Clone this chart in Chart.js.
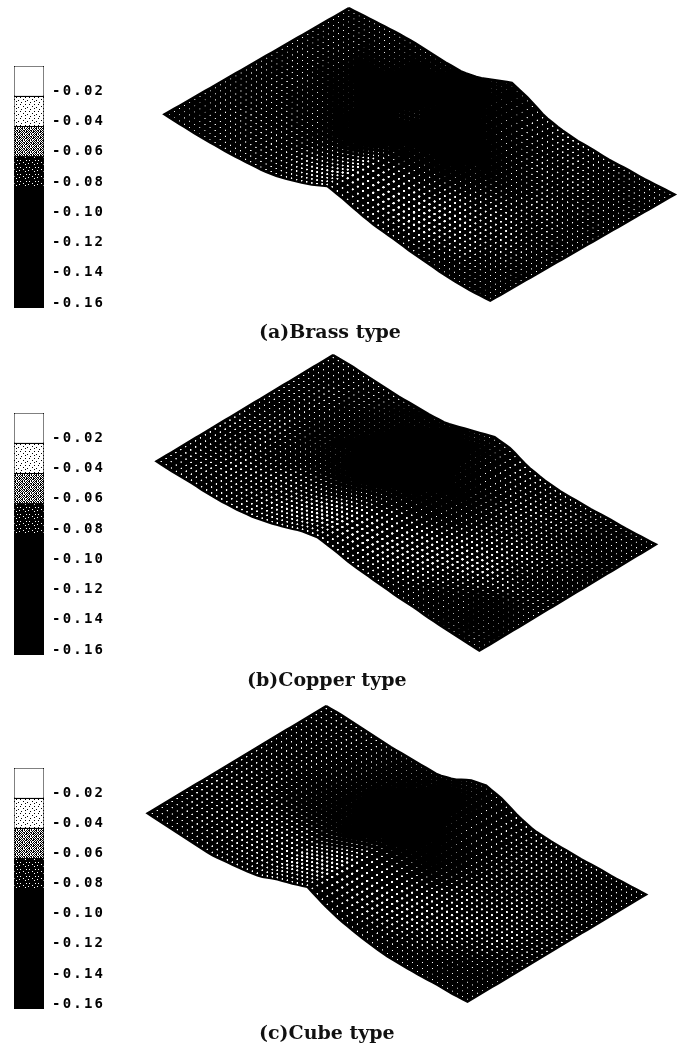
<!DOCTYPE html>
<html>
<head>
<meta charset="utf-8">
<script src="https://cdn.jsdelivr.net/npm/chart.js@4/dist/chart.umd.min.js"></script>
<style>
    html, body { margin: 0; padding: 0; background: #fff; overflow: hidden; }
    #page { position: relative; width: 684px; height: 1046px; }
    canvas { position: absolute; filter: contrast(1.6); }
    .caption { position: absolute; font: bold 19px "DejaVu Serif", serif; color: #111; white-space: nowrap; line-height: 20px; }
</style>
</head>
<body>
<div id="page"></div>
<script>
// Legend
const bandValues = [-0.02, -0.02, -0.02, -0.02, -0.02, -0.02, -0.02, -0.02];
const tickLabels = ['-0.02', '-0.04', '-0.06', '-0.08', '-0.10', '-0.12', '-0.14', '-0.16'];

// Edge heights along the long side, every 0.05 of its length
const farEdgeA = [0, 1, 2, 3, 3, 2, 1, 1, 5, 12, 19, 13, 4, 0, -2, -2, -3, -2, -2, -1, 0];
const nearEdgeA = [0, -1, -2, -2, -2, -1, 0, 3, 8, 14, 22, 18, 13, 9, 7, 4, 2, 0, -1, -1, 0];
const farEdgeB = [0, 0, -1, -2, -3, -3, -3, -2, 3, 8, 13, 11, 3, -1, -3, -3, -3, -2, -2, -1, 0];
const nearEdgeB = [0, -1, -1, -2, -2, -1, 1, 5, 10, 16, 19, 16, 12, 10, 8, 6, 5, 3, 2, 1, 0];
const farEdgeC = [0, 0, -1, -2, -3, -3, -3, -3, 2, 11, 15, 11, 3, -2, -3, -3, -3, -2, -2, -1, 0];
const nearEdgeC = [0, -1, -2, -3, -4, -2, 0, 3, 10, 15, 21, 13, 7, 3, 0, -2, -2, -2, -1, -1, 0];

// Strain: rows run far edge to near edge, columns along the long side
const strainA = [
    [-.078, -.078, -.076, -.085, -.105, -.085, -.068, -.066, -.070, -.074, -.076],
    [-.078, -.076, -.085, -.105, -.110, -.100, -.072, -.066, -.068, -.072, -.076],
    [-.078, -.076, -.098, -.110, -.096, -.105, -.085, -.068, -.066, -.070, -.076],
    [-.076, -.074, -.094, -.105, -.092, -.110, -.105, -.078, -.066, -.070, -.076],
    [-.076, -.072, -.082, -.100, -.110, -.110, -.100, -.072, -.062, -.068, -.076],
    [-.076, -.072, -.074, -.088, -.105, -.092, -.070, -.058, -.058, -.066, -.076],
    [-.076, -.072, -.068, -.072, -.070, -.058, -.052, -.050, -.056, -.068, -.078],
    [-.078, -.074, -.070, -.066, -.058, -.052, -.050, -.050, -.062, -.075, -.080],
    [-.080, -.078, -.074, -.072, -.068, -.066, -.066, -.070, -.078, -.080, -.080]
];
const strainB = [
    [-.072, -.070, -.072, -.085, -.100, -.078, -.066, -.066, -.070, -.074, -.076],
    [-.072, -.070, -.076, -.100, -.110, -.095, -.066, -.062, -.068, -.072, -.076],
    [-.072, -.068, -.085, -.105, -.110, -.105, -.080, -.062, -.062, -.070, -.078],
    [-.070, -.068, -.082, -.105, -.110, -.110, -.085, -.060, -.058, -.068, -.078],
    [-.070, -.066, -.078, -.098, -.110, -.105, -.080, -.056, -.054, -.068, -.076],
    [-.068, -.064, -.070, -.070, -.085, -.075, -.056, -.050, -.050, -.066, -.076],
    [-.068, -.062, -.060, -.058, -.054, -.052, -.050, -.050, -.066, -.088, -.082],
    [-.070, -.064, -.060, -.056, -.052, -.050, -.050, -.058, -.080, -.086, -.080],
    [-.072, -.068, -.066, -.066, -.064, -.062, -.066, -.074, -.080, -.080, -.078]
];
const strainC = [
    [-.070, -.068, -.072, -.080, -.095, -.078, -.064, -.064, -.068, -.070, -.072],
    [-.070, -.066, -.072, -.090, -.105, -.100, -.066, -.060, -.064, -.068, -.072],
    [-.070, -.066, -.075, -.100, -.110, -.105, -.075, -.060, -.060, -.066, -.072],
    [-.068, -.066, -.080, -.100, -.110, -.110, -.090, -.062, -.058, -.062, -.070],
    [-.068, -.064, -.075, -.088, -.105, -.105, -.085, -.060, -.056, -.060, -.070],
    [-.066, -.062, -.064, -.066, -.082, -.070, -.058, -.054, -.054, -.060, -.072],
    [-.068, -.062, -.058, -.056, -.054, -.052, -.050, -.052, -.060, -.072, -.078],
    [-.072, -.066, -.060, -.058, -.054, -.052, -.054, -.060, -.072, -.080, -.082],
    [-.074, -.072, -.068, -.066, -.066, -.066, -.070, -.076, -.080, -.080, -.078]
];

// Mesh size
const cellsLong = 64;
const cellsShort = 36;

const page = document.getElementById('page');

// Small repeating tile for the dithered legend bands
function makeDither(bg, fg, rows) {
    const tile = document.createElement('canvas');
    tile.width = rows[0].length;
    tile.height = rows.length;
    const c = tile.getContext('2d');
    c.fillStyle = bg;
    c.fillRect(0, 0, tile.width, tile.height);
    c.fillStyle = fg;
    rows.forEach((row, y) => {
        [...row].forEach((bit, x) => {
            if (bit === '#') c.fillRect(x, y, 1, 1);
        });
    });
    return c.createPattern(tile, 'repeat');
}

function bandFills() {
    const light = makeDither('#fff', '#000', ['.........', '..#....#.', '.........', '.....#...', '#........', '.......#.', '...#.....']);
    const mid = makeDither('#fff', '#000', ['#.#.##.', '.#.#..#', '##.#.#.', '.#..#.#', '#.##.#.', '.#.#.##']);
    const dark = makeDither('#000', '#fff', ['.........', '..#.....#', '.........', '.....#...', '.#.......', '.......#.', '.........']);
    return ['#fff', light, mid, dark, '#000', '#000', '#000', '#000'];
}

function drawLegend(barTop, barBottom) {
    const canvas = document.createElement('canvas');
    canvas.style.left = '0px';
    canvas.style.top = (barTop - 12) + 'px';
    canvas.style.width = '120px';
    canvas.style.height = (barBottom - barTop + 24) + 'px';
    canvas.width = 120;
    canvas.height = barBottom - barTop + 24;
    page.appendChild(canvas);
    const fills = bandFills();

    new Chart(canvas, {
        type: 'bar',
        data: {
            labels: ['strain'],
            datasets: bandValues.map((v, i) => ({
                label: tickLabels[i],
                data: [v],
                backgroundColor: fills[i],
                borderColor: '#000',
                borderWidth: 1,
                borderSkipped: false,
                inflateAmount: 0.5,
                barPercentage: 1,
                categoryPercentage: 1
            }))
        },
        options: {
            responsive: false,
            animation: false,
            events: [],
            layout: { padding: { left: 14, right: 0, top: 12, bottom: 12 } },
            plugins: { legend: { display: false }, tooltip: { enabled: false } },
            scales: {
                x: { stacked: true, display: false },
                y: {
                    stacked: true,
                    position: 'right',
                    min: -0.16,
                    max: 0,
                    afterFit: (scale) => {
                        scale.width = 76;
                        scale.paddingTop = 0;
                        scale.paddingBottom = 0;
                    },
                    grid: { display: false, drawTicks: false },
                    border: { display: false },
                    ticks: {
                        stepSize: 0.02,
                        autoSkip: false,
                        padding: 8,
                        labelOffset: -5,
                        color: '#000',
                        font: { family: '"DejaVu Sans Mono"', size: 14, weight: 'bold' },
                        callback: (v) => {
                            const i = Math.round(-v / 0.02) - 1;
                            return i < 0 ? '' : tickLabels[i];
                        }
                    }
                }
            }
        },
        plugins: [{
            id: 'tickSpacing',
            beforeDraw: (chart) => { chart.ctx.letterSpacing = '2.2px'; }
        }]
    });
}

// Linear lookup in a list of evenly spaced samples
function lookup(list, t) {
    const p = Math.min(Math.max(t, 0), 1) * (list.length - 1);
    const i = Math.min(Math.floor(p), list.length - 2);
    return list[i] + (list[i + 1] - list[i]) * (p - i);
}

function strainAt(grid, u, v) {
    const p = v * (grid.length - 1);
    const r = Math.min(Math.floor(p), grid.length - 2);
    const a = lookup(grid[r], u);
    const b = lookup(grid[r + 1], u);
    return a + (b - a) * (p - r);
}

// Size of the open hole between mesh lines: denser shading for stronger strain
function holeRadius(s) {
    if (s <= -0.098) return 0;
    if (s <= -0.08) return 0.3 + (s + 0.098) * 14;
    return Math.min(0.55 + (s + 0.08) * 25, 1.3);
}

function drawSurface(top, bottom, corners, farEdge, nearEdge, strain) {
    const canvas = document.createElement('canvas');
    canvas.style.left = '0px';
    canvas.style.top = top + 'px';
    canvas.style.width = '684px';
    canvas.style.height = (bottom - top) + 'px';
    canvas.width = 684;
    canvas.height = bottom - top;
    page.appendChild(canvas);

    // Parallel projection of the plate, height lifts a point up the page
    const place = (u, v) => {
        const h = lookup(farEdge, u) * (1 - v) + lookup(nearEdge, u) * v;
        return {
            x: corners.top[0] + u * (corners.right[0] - corners.top[0]) + v * (corners.left[0] - corners.top[0]),
            y: corners.top[1] + u * (corners.right[1] - corners.top[1]) + v * (corners.left[1] - corners.top[1]) - h
        };
    };

    const outline = [];
    for (let i = 0; i <= cellsLong; i++) outline.push(place(i / cellsLong, 0));
    for (let j = 1; j <= cellsShort; j++) outline.push(place(1, j / cellsShort));
    for (let i = cellsLong - 1; i >= 0; i--) outline.push(place(i / cellsLong, 1));
    for (let j = cellsShort - 1; j >= 0; j--) outline.push(place(0, j / cellsShort));

    const holes = [];
    const radii = [];
    for (let i = 0; i < cellsLong; i++) {
        for (let j = 0; j < cellsShort; j++) {
            const u = (i + 0.5) / cellsLong;
            const v = (j + 0.5) / cellsShort;
            holes.push(place(u, v));
            radii.push(holeRadius(strainAt(strain, u, v)));
        }
    }

    new Chart(canvas, {
        type: 'scatter',
        data: {
            datasets: [
                {
                    label: 'mesh holes',
                    data: holes,
                    order: 1,
                    showLine: false,
                    pointStyle: 'circle',
                    pointRadius: radii,
                    pointBorderWidth: 0,
                    pointBackgroundColor: '#fff'
                },
                {
                    label: 'plate',
                    data: outline,
                    order: 2,
                    showLine: true,
                    fill: 'shape',
                    pointRadius: 0,
                    tension: 0,
                    borderWidth: 2,
                    borderColor: '#000',
                    backgroundColor: '#000'
                }
            ]
        },
        options: {
            responsive: false,
            animation: false,
            events: [],
            layout: { padding: 0 },
            plugins: { legend: { display: false }, tooltip: { enabled: false } },
            scales: {
                x: { type: 'linear', display: false, min: 0, max: 684 },
                y: { type: 'linear', display: false, min: top, max: bottom, reverse: true }
            }
        }
    });
}

function addCaption(text, left, top) {
    const el = document.createElement('div');
    el.className = 'caption';
    el.textContent = text;
    el.style.left = left + 'px';
    el.style.top = top + 'px';
    page.appendChild(el);
}

// Panels
drawSurface(0, 345, { top: [349, 4], right: [679, 195], left: [162, 113] }, farEdgeA, nearEdgeA, strainA);
drawSurface(345, 695, { top: [333, 351], right: [660, 545], left: [154, 460] }, farEdgeB, nearEdgeB, strainB);
drawSurface(695, 1046, { top: [326, 702], right: [650, 895], left: [145, 812] }, farEdgeC, nearEdgeC, strainC);

drawLegend(66, 308);
drawLegend(413, 655);
drawLegend(768, 1009);

addCaption('(a)Brass type', 259, 321);
addCaption('(b)Copper type', 247, 669);
addCaption('(c)Cube type', 259, 1022);
</script>
</body>
</html>
